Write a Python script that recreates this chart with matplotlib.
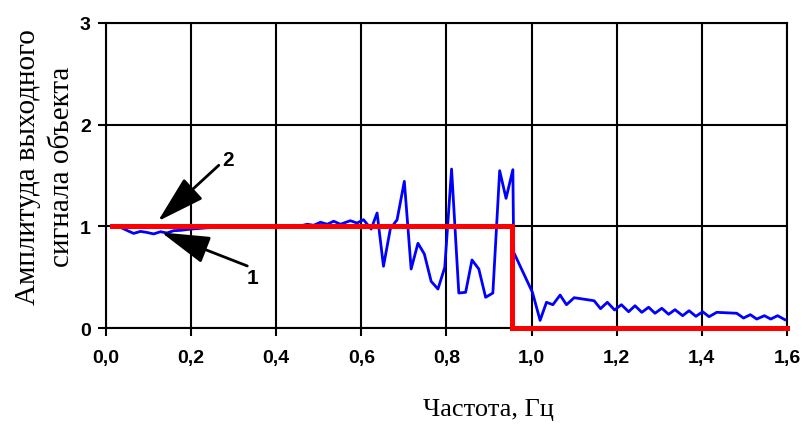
import matplotlib
matplotlib.use("Agg")
import matplotlib.pyplot as plt

# amplitude response (curve 1)
freq = [0.018, 0.034, 0.049, 0.065, 0.081, 0.096, 0.112, 0.128, 0.143, 0.159,
        0.175, 0.190, 0.206, 0.222, 0.237, 0.253, 0.269, 0.285, 0.300, 0.316,
        0.332, 0.347, 0.363, 0.379, 0.394, 0.410, 0.426, 0.441, 0.457, 0.473,
        0.488, 0.504, 0.520, 0.535, 0.551, 0.574, 0.590, 0.605, 0.623, 0.637,
        0.652, 0.668, 0.684, 0.701, 0.717, 0.733, 0.748, 0.764, 0.780, 0.796,
        0.812, 0.829, 0.845, 0.860, 0.876, 0.892, 0.909, 0.925, 0.940, 0.956,
        0.958, 1.002, 1.020, 1.035, 1.050, 1.067, 1.082, 1.100, 1.147, 1.162,
        1.178, 1.195, 1.211, 1.228, 1.243, 1.259, 1.275, 1.290, 1.306, 1.322,
        1.337, 1.355, 1.370, 1.386, 1.402, 1.417, 1.435, 1.482, 1.498, 1.514,
        1.529, 1.547, 1.562, 1.578, 1.595]
ampl = [1.00, 0.99, 0.96, 0.93, 0.95, 0.94, 0.925, 0.947, 0.934, 0.957,
        0.96, 0.968, 0.975, 0.98, 0.985, 0.99, 0.993, 0.996, 0.998, 1.0,
        1.0, 1.0, 1.0, 1.005, 1.0, 1.005, 1.0, 1.01, 1.005, 1.02,
        1.01, 1.04, 1.02, 1.05, 1.02, 1.055, 1.032, 1.065, 0.973, 1.131,
        0.607, 0.973, 1.065, 1.442, 0.580, 0.833, 0.728, 0.459, 0.383, 0.597,
        1.563, 0.344, 0.351, 0.669, 0.580, 0.302, 0.344, 1.547, 1.275, 1.557,
        0.744, 0.351, 0.075, 0.253, 0.229, 0.324, 0.229, 0.298, 0.268, 0.190,
        0.253, 0.177, 0.229, 0.160, 0.219, 0.154, 0.204, 0.145, 0.194, 0.135,
        0.180, 0.121, 0.170, 0.115, 0.160, 0.111, 0.154, 0.145, 0.098, 0.131,
        0.088, 0.121, 0.088, 0.121, 0.082]

# ideal filter (curve 2)
ideal_f = [0.015, 0.955, 0.955, 1.6]
ideal_a = [1, 1, 0, 0]

xticks = [0, 0.2, 0.4, 0.6, 0.8, 1.0, 1.2, 1.4, 1.6]
xlabels = ['0,0', '0,2', '0,4', '0,6', '0,8', '1,0', '1,2', '1,4', '1,6']
yticks = [0, 1, 2, 3]

fig = plt.figure(figsize=(8.03, 4.27), dpi=100)
ax = fig.add_axes([0.132, 0.2295, 0.848, 0.7145])

ax.plot(freq, ampl, color='blue', lw=2, zorder=3)
ax.plot(ideal_f, ideal_a, color='red', lw=3.6, zorder=4, clip_on=False,
        solid_joinstyle='miter')

ax.set_xlim(0, 1.6)
ax.set_ylim(0, 3)
ax.set_xticks(xticks)
ax.set_xticklabels(xlabels)
ax.set_yticks(yticks)
ax.grid(True, color='black', lw=1.5)
ax.set_axisbelow(True)
for s in ax.spines.values():
    s.set_linewidth(1.5)
ax.tick_params(direction='out', length=6, width=1.5)
ax.tick_params(axis='x', pad=9)
ax.tick_params(axis='y', pad=5)
for lab in ax.get_xticklabels() + ax.get_yticklabels():
    lab.set_fontfamily('Liberation Sans')
    lab.set_fontweight('bold')
    lab.set_fontsize(14)

arrow = dict(arrowstyle='-|>,head_length=1.25,head_width=0.36',
             mutation_scale=24, color='black', lw=2, shrinkA=0, shrinkB=0)
ax.annotate('', xy=(0.122, 1.05), xytext=(0.265, 1.6), arrowprops=arrow, zorder=6)
ax.annotate('', xy=(0.13, 0.94), xytext=(0.332, 0.61), arrowprops=arrow, zorder=6)
ax.text(0.287, 1.66, '2', fontfamily='Liberation Sans', fontweight='bold',
        fontsize=15, ha='center', va='center')
ax.text(0.345, 0.50, '1', fontfamily='Liberation Sans', fontweight='bold',
        fontsize=15, ha='center', va='center')

fig.text(488 / 803, 1 - 410 / 427, 'Частота, Гц', fontfamily='Liberation Serif',
         fontsize=19, ha='center', va='center')
fig.text(45 / 803, 1 - 167 / 427, 'Амплитуда выходного\nсигнала объекта',
         fontfamily='Liberation Serif', fontsize=21, rotation=90,
         ha='center', va='center', multialignment='center', linespacing=1.4)

fig.savefig('out.png', dpi=100)
